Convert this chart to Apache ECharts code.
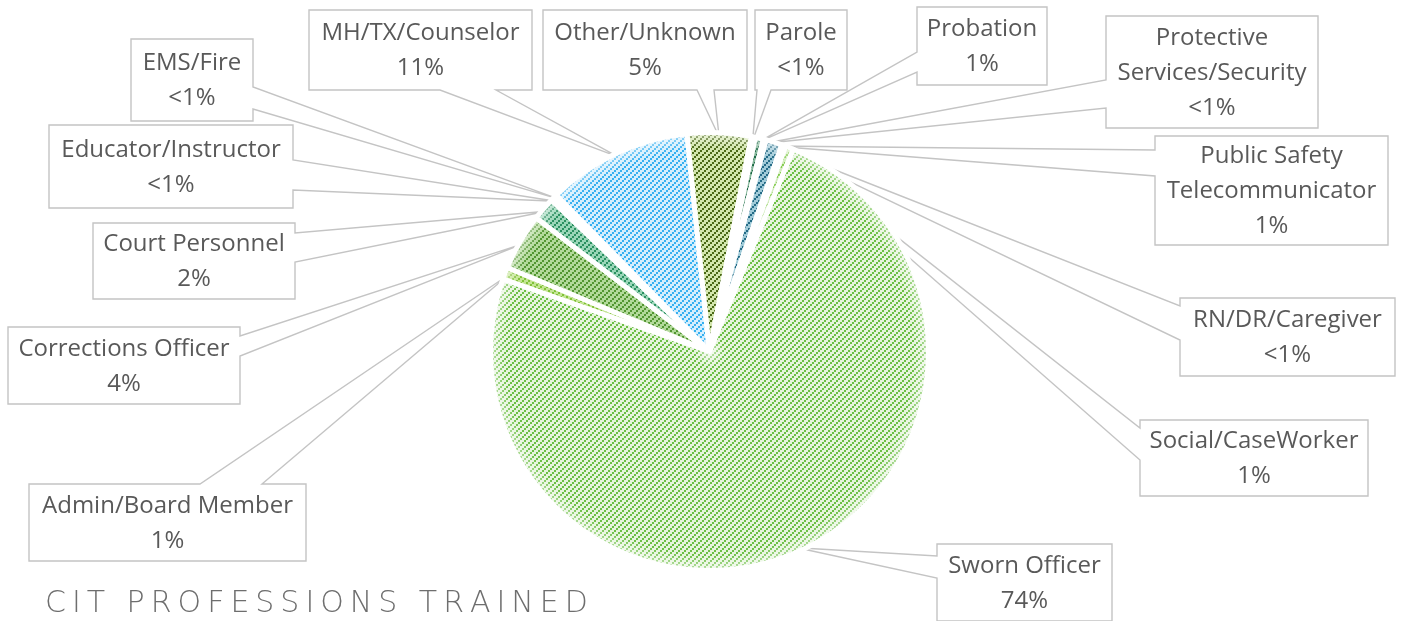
<!DOCTYPE html>
<html>
<head>
<meta charset="utf-8">
<script src="https://cdn.jsdelivr.net/npm/echarts@6/dist/echarts.min.js"></script>
<style>
  html, body { margin: 0; padding: 0; background: #ffffff; }
  #chart { width: 1401px; height: 621px; }
</style>
</head>
<body>
<div id="chart"></div>
<script>
// ---- data ----
const categories = [
  'Admin/Board Member', 'Corrections Officer', 'Court Personnel', 'Educator/Instructor',
  'EMS/Fire', 'MH/TX/Counselor', 'Other/Unknown', 'Parole', 'Probation',
  'Protective Services/Security', 'Public Safety Telecommunicator', 'RN/DR/Caregiver',
  'Social/CaseWorker', 'Sworn Officer'
];
// share of trainees, percent
const shares = [0.9, 4.2, 1.7, 0.3, 0.2, 10.7, 4.7, 0.3, 0.6, 0.2, 1.2, 0.3, 0.6, 74.1];
// wrapped names used inside the callouts
const labelNames = [
  'Admin/Board Member', 'Corrections Officer', 'Court Personnel', 'Educator/Instructor',
  'EMS/Fire', 'MH/TX/Counselor', 'Other/Unknown', 'Parole', 'Probation',
  'Protective\nServices/Security', 'Public Safety\nTelecommunicator', 'RN/DR/Caregiver',
  'Social/CaseWorker', 'Sworn Officer'
];
const chartTitle = 'CIT PROFESSIONS TRAINED';

// ---- styling ----
// hatch line colour and background colour for each slice
const hatchColors = ['#80c238', '#529631', '#2a9060', '#7cc7c0', '#7fb8a0', '#35b0f0', '#4a6916',
                     '#1b6840', '#1d6a46', '#3c8f6a', '#246b86', '#86c254', '#86cc52', '#6bbf44'];
const fillColors  = ['#c4e594', '#b2d99a', '#9ad6b8', '#d4f0ee', '#d2ece0', '#d4eefd', '#d3e6ad',
                     '#7fb395', '#84b69a', '#a6d4be', '#a0cad8', '#d2ecb8', '#d2edbd', '#e6f4dc'];

// callout boxes: [x0, y0, x1, y1], side the pointer leaves from, pointer base along that side
const calloutBoxes = [
  [29, 484, 306, 561], [8, 327, 240, 404], [93, 223, 295, 299], [49, 125, 293, 208],
  [131, 39, 253, 121], [309, 10, 532, 90], [543, 10, 747, 90], [755, 10, 847, 90],
  [917, 7, 1047, 85], [1106, 16, 1318, 128], [1155, 136, 1388, 245], [1180, 298, 1395, 376],
  [1140, 420, 1368, 496], [937, 544, 1112, 621]
];
const calloutSides = ['top', 'right', 'right', 'right', 'right', 'bottom', 'bottom', 'bottom',
                      'left', 'left', 'left', 'left', 'left', 'left'];
const calloutBases = [[200, 262], [336, 356], [233, 262], [160, 190], [87, 109], [440, 496], [697, 714],
                      [757, 771], [52, 72], [80, 108], [150, 176], [306, 340], [428, 460], [556, 578]];

const PIE = { cx: 709.5, cy: 351.5, r: 219, startAngle: 160.7 };

// "wide upward diagonal" hatch built from 2x2 pixel steps
function hatchPattern(fg, bg) {
  const c = document.createElement('canvas');
  const n = 6;
  c.width = n; c.height = n;
  const g = c.getContext('2d');
  g.fillStyle = bg; g.fillRect(0, 0, n, n);
  g.fillStyle = fg;
  for (let k = 0; k < n / 2; k++) {
    g.fillRect(2 * k, n - 2 - 2 * k, 2, 2);
  }
  return { image: c, repeat: 'repeat' };
}

function fmtPct(p) {
  const r = Math.round(p);
  return r < 1 ? '<1%' : r + '%';
}

// tip of each callout: middle of the slice's outer arc
const total = shares.reduce((a, b) => a + b, 0);
function sliceTip(i) {
  let cum = 0;
  for (let k = 0; k < i; k++) cum += shares[k];
  const mid = (PIE.startAngle - (cum + shares[i] / 2) / total * 360) * Math.PI / 180;
  const R = PIE.r - 4;
  return [PIE.cx + R * Math.cos(mid), PIE.cy - R * Math.sin(mid)];
}

function calloutOutline(i) {
  const [x0, y0, x1, y1] = calloutBoxes[i];
  const [b0, b1] = calloutBases[i];
  const t = sliceTip(i);
  switch (calloutSides[i]) {
    case 'top':    return [[x0, y0], [b0, y0], t, [b1, y0], [x1, y0], [x1, y1], [x0, y1]];
    case 'right':  return [[x0, y0], [x1, y0], [x1, b0], t, [x1, b1], [x1, y1], [x0, y1]];
    case 'bottom': return [[x0, y0], [x1, y0], [x1, y1], [b1, y1], t, [b0, y1], [x0, y1]];
    default:       return [[x0, y0], [x1, y0], [x1, y1], [x0, y1], [x0, b1], t, [x0, b0]];
  }
}

const seriesData = categories.map((name, i) => ({
  name: name,
  value: shares[i],
  itemStyle: { color: hatchPattern(hatchColors[i], fillColors[i]) }
}));

const callouts = categories.map((_, i) => ({
  type: 'polygon',
  shape: { points: calloutOutline(i) },
  style: { fill: 'rgba(255,255,255,0)', stroke: '#c4c4c4', lineWidth: 1.4 },
  silent: true,
  z: 1
}));

const chart = echarts.init(document.getElementById('chart'), null, { renderer: 'canvas' });

chart.setOption({
  backgroundColor: '#ffffff',
  animation: false,
  title: {
    // tracked-out heading
    text: chartTitle.split('').join('\u2009'),
    left: 40,
    top: 584,
    textStyle: {
      fontFamily: 'DejaVu Sans',
      fontWeight: 200,
      fontSize: 30,
      color: '#6e6e6e'
    }
  },
  graphic: callouts.concat([{
    // soft light rim around the pie
    type: 'circle',
    shape: { cx: PIE.cx, cy: PIE.cy, r: PIE.r },
    style: {
      fill: {
        type: 'radial', x: 0.5, y: 0.5, r: 0.5,
        colorStops: [
          { offset: 0, color: 'rgba(255,255,255,0.7)' },
          { offset: 0.07, color: 'rgba(255,255,255,0)' },
          { offset: 0.93, color: 'rgba(255,255,255,0)' },
          { offset: 1, color: 'rgba(255,255,255,0.55)' }
        ]
      }
    },
    silent: true,
    z: 10
  }]),
  series: [{
    type: 'pie',
    center: [PIE.cx, PIE.cy],
    radius: [0, PIE.r],
    startAngle: PIE.startAngle,
    clockwise: true,
    avoidLabelOverlap: false,
    data: seriesData,
    itemStyle: { borderColor: '#ffffff', borderWidth: 5 },
    emphasis: { disabled: true },
    label: {
      show: true,
      position: 'outside',
      formatter: p => labelNames[p.dataIndex] + '\n' + fmtPct(p.percent),
      fontFamily: 'Open Sans',
      fontSize: 24,
      lineHeight: 35,
      color: '#595959',
      align: 'center'
    },
    labelLine: { show: false },
    labelLayout: p => {
      const b = calloutBoxes[p.dataIndex];
      return { x: (b[0] + b[2]) / 2, y: (b[1] + b[3]) / 2 + 1, align: 'center', verticalAlign: 'middle' };
    }
  }]
});
</script>
</body>
</html>
